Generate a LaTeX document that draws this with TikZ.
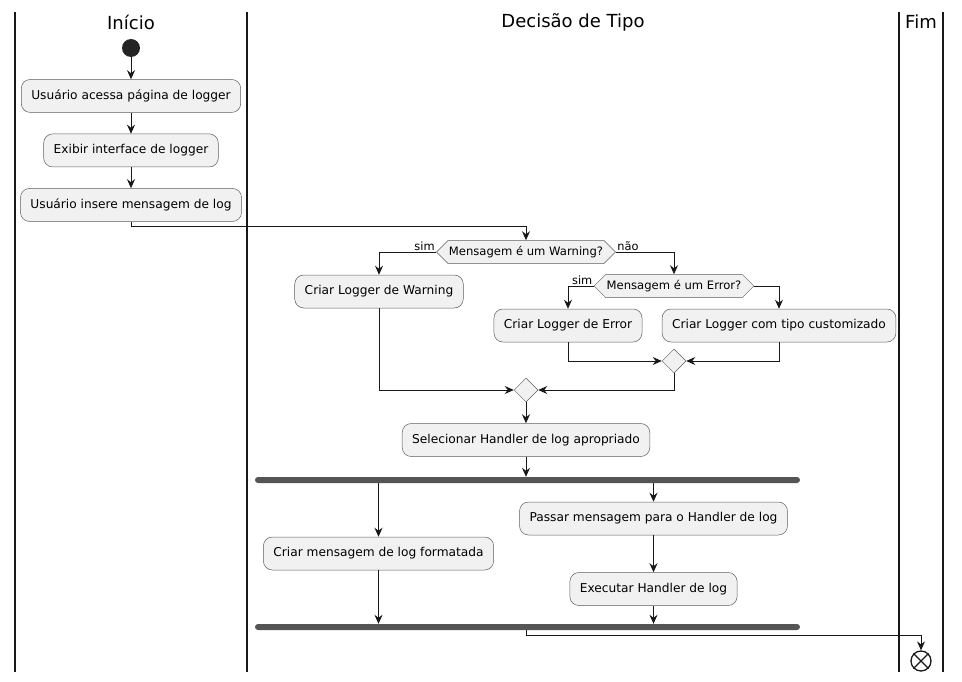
\documentclass[tikz,border=0pt]{standalone}
\usepackage{fontspec}
\setmainfont{DejaVu Sans}
\usetikzlibrary{positioning, arrows.meta, shapes.geometric, shapes.symbols}
\definecolor{boxfill}{HTML}{F1F1F1}
\definecolor{edge}{HTML}{181818}
\definecolor{bar}{HTML}{555555}
\tikzset{
    >={Stealth[length=9pt, width=8pt, inset=3pt]},
    x=1pt, y=-1pt,
    flow/.style={->, draw=edge, line width=0.9pt},
    act/.style={rectangle, rounded corners=9pt, draw=edge!70, line width=0.5pt,
        fill=boxfill, minimum height=33pt, inner xsep=10pt,
        font=\fontsize{12.2}{14}\selectfont},
    cond/.style={signal, signal to=west and east, signal pointer angle=90,
        draw=edge!70, line width=0.5pt, fill=boxfill, minimum height=23pt,
        inner xsep=1pt, inner ysep=2pt, font=\fontsize{11.6}{13}\selectfont},
    merge/.style={diamond, draw=edge!70, line width=0.5pt, fill=boxfill,
        minimum size=24pt, inner sep=0pt},
    syncbar/.style={rectangle, rounded corners=3pt, fill=bar, draw=none,
        minimum width=545pt, minimum height=6pt, inner sep=0pt},
    lane/.style={draw=edge, line width=1.7pt},
    lanetitle/.style={font=\fontsize{18}{21}\selectfont},
    lbl/.style={font=\fontsize{11.4}{13}\selectfont, inner sep=1pt},
}

\begin{document}
\begin{tikzpicture}

\useasboundingbox (0,0) rectangle (962,682);

% raias
\draw[lane] (15,12) -- (15,672);
\draw[lane] (247,12) -- (247,672);
\draw[lane] (899,12) -- (899,672);
\draw[lane] (943,12) -- (943,672);
\node[lanetitle] (tinicio) at (131,22) {Início};
\node[lanetitle] (tdecisao) at (573,22) {Decisão de Tipo};
\node[lanetitle] (tfim) at (921,22) {Fim};

\node[circle, fill=edge!95!white, draw=none, minimum size=18pt] (start) at (131,48) {};
\node[act] (acessa) [below=22pt of start] {Usuário acessa página de logger};
\node[act] (exibir) [below=21pt of acessa] {Exibir interface de logger};
\node[act] (insere) [below=21pt of exibir] {Usuário insere mensagem de log};

\node[cond] (warn) at (526,252) {Mensagem é um Warning?};
\node[act] (cwarn) at (379,291.5) {Criar Logger de Warning};
\node[cond] (err) at (674,286) {Mensagem é um Error?};
\node[act] (cerr) at (568,325.5) {Criar Logger de Error};
\node[act] (ccust) at (779,325.5) {Criar Logger com tipo customizado};
\node[merge] (merr) at (674,361) {};
\node[merge] (mwarn) at (526,390) {};
\node[act] (handler) [below=21pt of mwarn] {Selecionar Handler de log apropriado};

\node[syncbar] (fork) at (527.5,480) {};
\node[act] (formata) at (378.5,553.5) {Criar mensagem de log formatada};
\node[act] (passar) at (653.5,518.5) {Passar mensagem para o Handler de log};
\node[act] (exec) [below=37pt of passar] {Executar Handler de log};
\node[syncbar] (join) at (527.5,627) {};

\node[circle, draw=edge, line width=1.3pt, minimum size=20pt, inner sep=0pt] (stop) at (921,661) {};
\draw[edge, line width=1.3pt] (stop.north east) -- (stop.south west) (stop.north west) -- (stop.south east);

\draw[flow] (start) -- (acessa);
\draw[flow] (acessa) -- (exibir);
\draw[flow] (exibir) -- (insere);
\draw[flow] (insere.south) -- ++(0,5) -| (warn.north);

\draw[flow] (warn.west) -| node[lbl, pos=0, above left] {sim} (cwarn.north);
\draw[flow] (warn.east) -| node[lbl, pos=0, above right] {não} (err.north);
\draw[flow] (err.west) -| node[lbl, pos=0, above left] {sim} (cerr.north);
\draw[flow] (err.east) -| (ccust.north);

\draw[flow] (cerr.south) |- (merr.west);
\draw[flow] (ccust.south) |- (merr.east);
\draw[flow] (cwarn.south) |- (mwarn.west);
\draw[flow] (merr.south) |- (mwarn.east);
\draw[flow] (mwarn) -- (handler);
\draw[flow] (handler.south) -- (handler.south |- fork.north);

\draw[flow] (fork.south -| formata.north) -- (formata.north);
\draw[flow] (fork.south -| passar.north) -- (passar.north);
\draw[flow] (passar) -- (exec);
\draw[flow] (formata.south) -- (formata.south |- join.north);
\draw[flow] (exec.south) -- (exec.south |- join.north);
\draw[flow] (join.south -| handler.south) -- ++(0,5) -| (stop.north);

\end{tikzpicture}
\end{document}
